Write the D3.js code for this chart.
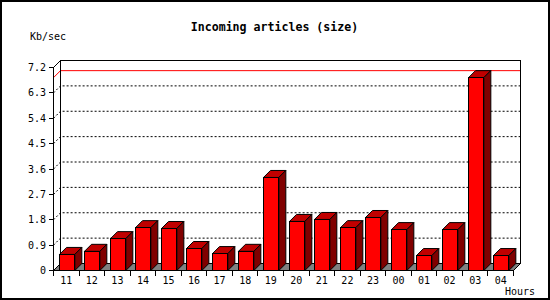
<!DOCTYPE html>
<html><head><meta charset="utf-8">
<script src="https://cdn.jsdelivr.net/npm/d3@7"></script>
<style>body{margin:0;background:#fff}svg{display:block}</style>
</head><body>
<script>
const hours = ["11","12","13","14","15","16","17","18","19","20","21","22","23","00","01","02","03","04"];
const values = [0.57,0.68,1.13,1.52,1.49,0.78,0.60,0.68,3.30,1.74,1.81,1.52,1.88,1.45,0.53,1.45,6.84,0.53];
const yTicks = [0,0.9,1.8,2.7,3.6,4.5,5.4,6.3,7.2];
const title = "Incoming articles (size)";
const yLabel = "Kb/sec";
const xLabel = "Hours";

const W = 550, H = 300, D = 7;
const svg = d3.select("body").append("svg").attr("width", W).attr("height", H);
svg.append("rect").attr("x",1).attr("y",1).attr("width",W-2).attr("height",H-2)
  .attr("fill","#fff").attr("stroke","#000").attr("stroke-width",2);

const x0 = 53.5, x1 = 513.5;
const x = d3.scaleBand().domain(hours).range([x0, x1]).paddingInner(0.4).paddingOuter(0.2);
const y = d3.scaleLinear().domain([0, 7.2]).range([270.5, 67.5]);
const step = x.step(), bw = x.bandwidth();
const font = "'DejaVu Sans Mono', monospace";

// back plane frame
const g = svg.append("g");
const yb = v => y(v) - D;
// grid lines (dotted) from front axis diagonally to back plane
yTicks.filter(v => v > 0 && v < 7.2).forEach(v => {
  g.append("path").attr("d", `M${x0},${y(v)}L${x0+D},${yb(v)}L${x1+D},${yb(v)}`)
    .attr("fill","none").attr("stroke","#000").attr("stroke-dasharray","2,2");
});
// max line red
const maxV = d3.max(values);
g.append("path").attr("d", `M${x0},${y(maxV)}L${x0+D},${yb(maxV)}L${x1+D},${yb(maxV)}`)
  .attr("fill","none").attr("stroke","#ff0000");
// back frame: left, top, right
g.append("path").attr("d", `M${x0+D},${yb(0)}L${x0+D},${yb(7.2)}L${x1+D},${yb(7.2)}L${x1+D},${yb(0)}`)
  .attr("fill","none").attr("stroke","#000").attr("shape-rendering","crispEdges");
// top-left diagonal
g.append("path").attr("d", `M${x0},${y(7.2)}L${x0+D},${yb(7.2)}`).attr("stroke","#000");
// floor
g.append("path").attr("d", `M${x0},${y(0)}L${x1},${y(0)}L${x1+D},${yb(0)}L${x0+D},${yb(0)}Z`)
  .attr("fill","#808080").attr("stroke","#000");
// front y axis
g.append("line").attr("x1",x0).attr("x2",x0).attr("y1",y(7.2)).attr("y2",y(0))
  .attr("stroke","#000").attr("shape-rendering","crispEdges");
yTicks.forEach(v => {
  g.append("line").attr("x1",x0-5).attr("x2",x0).attr("y1",y(v)).attr("y2",y(v))
    .attr("stroke","#000").attr("shape-rendering","crispEdges");
  g.append("text").attr("x",46).attr("y",y(v)+3.5).attr("text-anchor","end")
    .attr("font-family",font).attr("font-size","10px").text(String(v));
});
// x axis ticks
hours.forEach((h,i) => {
  const tx = x0 + i*step;
  g.append("line").attr("x1",tx).attr("x2",tx).attr("y1",y(0)).attr("y2",y(0)+5)
    .attr("stroke","#000").attr("shape-rendering","crispEdges");
  g.append("text").attr("x", x(h)+bw/2).attr("y",284).attr("text-anchor","middle")
    .attr("font-family",font).attr("font-size","10px").text(h);
});
{
  const tx = x1;
  g.append("line").attr("x1",tx).attr("x2",tx).attr("y1",y(0)).attr("y2",y(0)+5)
    .attr("stroke","#000").attr("shape-rendering","crispEdges");
}
// bars
const bars = svg.append("g").selectAll("g").data(hours.map((h,i)=>({h, v: values[i]}))).join("g");
bars.each(function(d){
  const s = d3.select(this);
  const bx = Math.round(x(d.h)) + 0.5, by = y(d.v), by0 = y(0);
  s.append("path").attr("d", `M${bx},${by}L${bx+bw},${by}L${bx+bw+D},${by-D}L${bx+D},${by-D}Z`)
    .attr("fill","#c00000").attr("stroke","#000");
  s.append("path").attr("d", `M${bx+bw},${by}L${bx+bw+D},${by-D}L${bx+bw+D},${by0-D}L${bx+bw},${by0}Z`)
    .attr("fill","#800000").attr("stroke","#000");
  s.append("rect").attr("x",bx).attr("y",by).attr("width",bw).attr("height",by0-by)
    .attr("fill","#ff0000").attr("stroke","#000").attr("shape-rendering","crispEdges");
});
// front x axis line
svg.append("line").attr("x1",x0).attr("x2",x1).attr("y1",y(0)).attr("y2",y(0))
  .attr("stroke","#000").attr("shape-rendering","crispEdges");
// texts
svg.append("text").attr("x",274.5).attr("y",31).attr("text-anchor","middle")
  .attr("font-family",font).attr("font-weight","bold").attr("font-size","11.6px").text(title);
svg.append("text").attr("x",30).attr("y",40).attr("font-family",font).attr("font-size","10px").text(yLabel);
svg.append("text").attr("x",505).attr("y",295).attr("font-family",font).attr("font-size","10px").text(xLabel);
</script>
</body></html>
